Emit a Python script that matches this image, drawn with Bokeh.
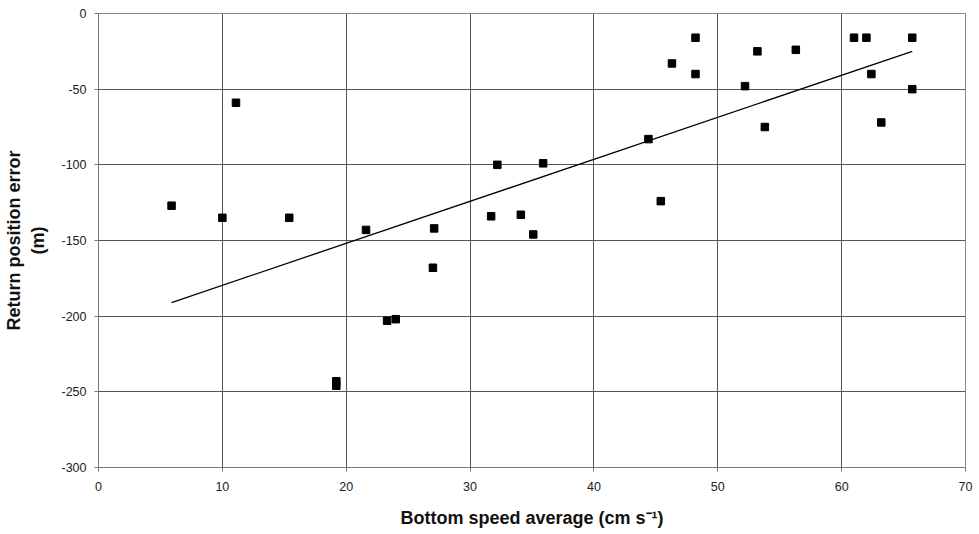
from bokeh.plotting import figure
from bokeh.models import Range1d, FixedTicker
from bokeh.embed import file_html
from bokeh.resources import INLINE

speed = [5.9, 10.0, 11.1, 15.4, 19.2, 19.2, 21.6, 23.3, 24.0, 27.0, 27.1,
         31.7, 32.2, 34.1, 35.1, 35.9, 44.4, 45.4, 46.3, 48.2, 48.2,
         52.2, 53.2, 53.8, 56.3, 61.0, 62.0, 62.4, 63.2, 65.7, 65.7]
error = [-127, -135, -59, -135, -243, -246, -143, -203, -202, -168, -142,
         -134, -100, -133, -146, -99, -83, -124, -33, -16, -40,
         -48, -25, -75, -24, -16, -16, -40, -72, -16, -50]
trend_x = [5.9, 65.7]
trend_y = [-191, -25]
x_ticks = [0, 10, 20, 30, 40, 50, 60, 70]
y_ticks = [0, -50, -100, -150, -200, -250, -300]

p = figure(width=979, height=534, output_backend="svg", toolbar_location=None,
           x_range=Range1d(0, 70), y_range=Range1d(-300, 0),
           min_border_left=98, min_border_right=14, min_border_top=13,
           min_border_bottom=67)
p.background_fill_color = "white"
p.border_fill_color = "white"
p.outline_line_color = "#888888"

p.xaxis.ticker = FixedTicker(ticks=x_ticks)
p.yaxis.ticker = FixedTicker(ticks=y_ticks)
p.yaxis.major_label_overrides = {t: str(t) for t in y_ticks}
p.xaxis.major_label_overrides = {t: str(t) for t in x_ticks}
for ax in (p.xaxis[0], p.yaxis[0]):
    ax.major_label_text_font = "Liberation Sans"
    ax.major_label_text_font_size = "12.5px"
    ax.major_label_text_color = "#222222"
    ax.axis_line_color = "#777777"
    ax.major_tick_line_color = "#777777"
    ax.major_tick_out = 4
    ax.major_tick_in = 0
    ax.minor_tick_line_color = None
    ax.axis_label_text_font = "Liberation Sans"
    ax.axis_label_text_font_style = "bold"
    ax.axis_label_text_font_size = "18px"
    ax.axis_label_text_color = "#111111"

p.xaxis.axis_label = "Bottom speed average (cm s\u207b\u00b9)"
p.yaxis.axis_label = "Return position error\n(m)"
p.xaxis.major_label_standoff = 10
p.xaxis.axis_label_standoff = 14
p.yaxis.major_label_standoff = 8
p.yaxis.axis_label_standoff = 10

p.xgrid.grid_line_color = "#555555"
p.ygrid.grid_line_color = "#555555"
p.xgrid.grid_line_width = 1
p.ygrid.grid_line_width = 1

p.line(trend_x, trend_y, line_color="black", line_width=1.3)
p.scatter(speed, error, marker="square", size=7.5, fill_color="black",
          line_color="black")

open("out.html", "w").write(file_html(p, INLINE))
